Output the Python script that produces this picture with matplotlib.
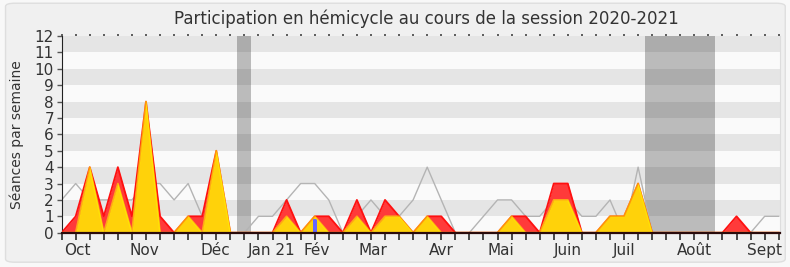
import matplotlib
matplotlib.use("Agg")
import matplotlib.pyplot as plt
from matplotlib.patches import FancyBboxPatch

# semaines de la session (0 = fin septembre 2020)
semaines = list(range(52))
seances_total = [0, 1, 4, 1, 4, 1, 8, 1, 0, 1, 1, 5, 0, 0, 0, 0, 2, 0, 1, 1,
                 0, 2, 0, 2, 1, 0, 1, 1, 0, 0, 0, 0, 1, 1, 0, 3, 3, 0, 0, 1,
                 1, 3, 0, 0, 0, 0, 0, 0, 1, 0, 0, 0]
seances_presence = [0, 0, 4, 0, 3, 0, 8, 0, 0, 1, 0, 5, 0, 0, 0, 0, 1, 0, 1, 0,
                    0, 1, 0, 1, 1, 0, 1, 0, 0, 0, 0, 0, 1, 0, 0, 2, 2, 0, 0, 1,
                    1, 3, 0, 0, 0, 0, 0, 0, 0, 0, 0, 0]
mediane = [2, 3, 2, 2, 2, 2, 3, 3, 2, 3, 1, 1, 0, 0, 1, 1, 2, 3, 3, 2,
           0, 1, 2, 1, 1, 2, 4, 2, 0, 0, 1, 2, 2, 1, 1, 2, 2, 1, 1, 2,
           0, 4, 0, 0, 0, 0, 0, 0, 0, 0, 1, 1]
questions_semaines = [18]
questions_valeurs = [0.85]
vacances = [(12.5, 13.5), (41.5, 46.5)]
mois = ["Oct", "Nov", "Déc", "Jan 21", "Fév", "Mar", "Avr", "Mai", "Juin", "Juil", "Août", "Sept"]
mois_pos = [1.09, 5.92, 10.97, 14.96, 18.16, 22.14, 26.98, 31.22, 35.99, 39.99, 45.04, 50.0]

plt.rcParams['font.family'] = ['DejaVu Sans']

fig = plt.figure(figsize=(7.9, 2.67), dpi=100, facecolor="#f8f8f8")
fig.patches.append(FancyBboxPatch((0.007, 0.018), 0.987, 0.97, boxstyle="round,pad=0,rounding_size=0.012",
                                  transform=fig.transFigure, facecolor="#f0f0f0", edgecolor="#dedede",
                                  linewidth=1, zorder=-5))
ax = fig.add_axes([0.078, 0.1285, 0.9095, 0.7365])
ax.set_zorder(2)
ax.set_facecolor("#fafafa")

# bandes horizontales
for k in range(1, 12, 2):
    ax.axhspan(k, k + 1, color="#e5e5e5", lw=0, zorder=0)

for a, b in vacances:
    ax.axvspan(a, b, color="#2b2b2b", alpha=0.3, lw=0, zorder=1)

ax.plot(semaines, mediane, color="#b4b4b4", lw=1, zorder=2)

ax.fill_between(semaines, seances_total, color="#ff3a3a", lw=0, zorder=3)
ax.plot(semaines, seances_total, color="#ff1010", lw=1.3, zorder=3)
ax.fill_between(semaines, seances_presence, color="#ffd20a", lw=0, zorder=4)
ax.bar(questions_semaines, questions_valeurs, width=0.26, color="#6666ff", zorder=4.5)
ax.plot(semaines, seances_presence, color="#ffee00", lw=1.3, alpha=0.6, zorder=5)

ax.set_xlim(0, 51.1)
ax.set_ylim(0, 12)
ax.set_yticks(range(13))
ax.set_xticks(semaines, labels=[""] * len(semaines))
ax.xaxis.set_tick_params(which="major", direction="out", length=5, width=1.1, color="#1a1a1a",
                         bottom=True, top=True)
for t in ax.xaxis.get_major_ticks():
    t.tick1line.set_visible(True)
    t.tick2line.set_markersize(1.2)
    t.tick2line.set_markeredgecolor("#333333")
ax.tick_params(axis="y", direction="out", length=3.5, width=1, color="#555555", labelsize=11,
               labelcolor="#333333", pad=2)
for p, m in zip(mois_pos, mois):
    ax.text(p, -0.6, m, ha="center", va="top", fontsize=11, color="#333333")

ax.spines["left"].set_color("#222222")
ax.spines["bottom"].set_color("#2a0a0a")
ax.spines["bottom"].set_linewidth(1.6)
ax.spines["bottom"].set_zorder(10)
ax.spines["top"].set_visible(False)
ax.spines["right"].set_color("#dddddd")

ax.set_ylabel("Séances par semaine", fontsize=10, color="#333333", labelpad=8)
fig.text(0.54, 0.93, "Participation en hémicycle au cours de la session 2020-2021",
         ha="center", va="center", fontsize=12, color="#333333")

fig.savefig("out.png", dpi=100, facecolor=fig.get_facecolor())
